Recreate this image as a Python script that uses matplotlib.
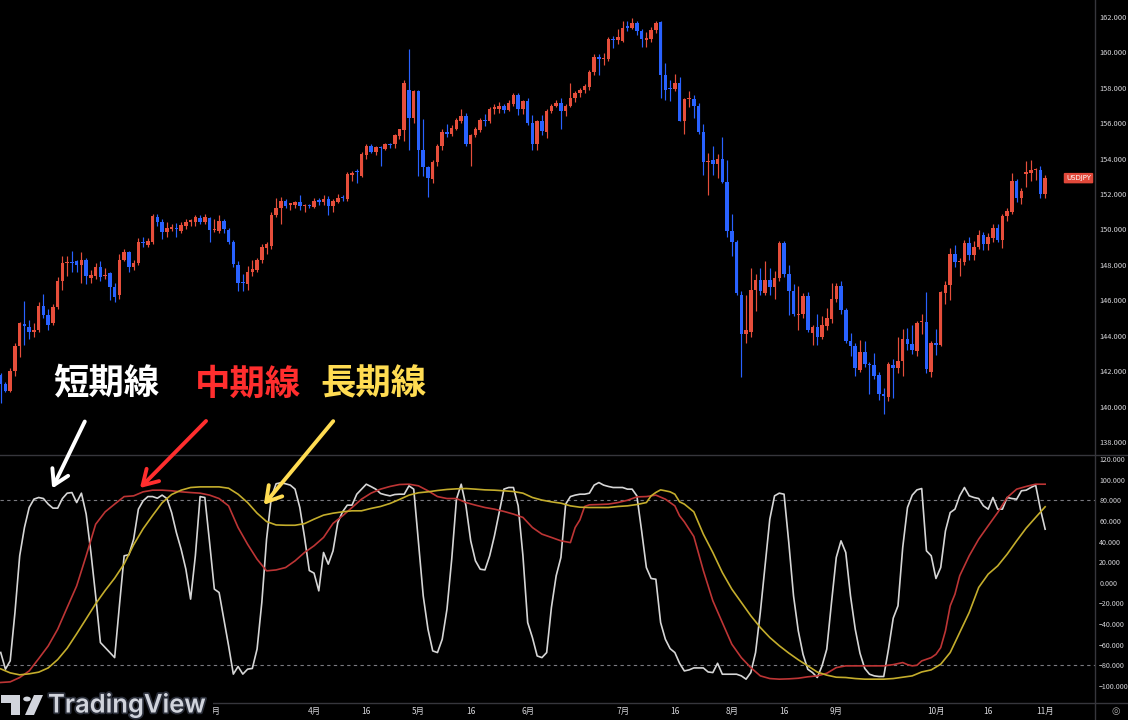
import numpy as np
import pandas as pd
import matplotlib
matplotlib.use("Agg")
import matplotlib.pyplot as plt
from matplotlib.patches import FancyArrowPatch, Rectangle, Polygon, Circle
from matplotlib.lines import Line2D
import matplotlib.patheffects as pe
import matplotlib.transforms as mtrans

plt.rcParams['font.family'] = ['Noto Sans CJK JP', 'DejaVu Sans']

# ---------------- data ----------------
dates = pd.bdate_range('2023-12-29', '2024-11-01')  # daily bars USDJPY

opens = [141.8,141.3,140.9,142.0,143.4,144.65,144.5,144.2,144.35,145.7,
         145.15,144.7,145.6,147.1,148.1,148.15,148.2,148.0,148.3,147.25,
         147.4,147.9,147.35,147.55,146.75,146.3,148.3,148.7,147.9,148.1,
         149.3,149.15,149.3,150.7,150.45,149.85,150.05,150.1,149.9,150.2,
         150.45,150.4,150.65,150.45,150.65,149.95,149.9,150.5,149.95,149.3,
         148.0,147.05,146.9,147.6,147.7,148.25,148.95,149.05,150.8,151.2,
         151.6,151.4,151.4,151.55,151.3,151.38,151.25,151.65,151.55,151.7,
         151.3,151.55,151.8,151.7,153.05,153.3,153.0,154.2,154.7,154.4,
         154.65,154.55,154.8,154.8,155.3,155.6,157.9,156.3,157.8,154.5,
         153.55,152.85,153.8,154.7,155.5,155.4,155.65,156.15,156.4,154.85,
         155.35,155.6,156.2,156.1,156.8,156.8,157.0,156.75,157.1,157.6,
         156.8,157.25,156.0,154.8,156.1,155.5,156.7,156.95,157.15,156.7,
         156.95,157.4,157.7,157.85,158.05,158.9,159.75,159.6,159.6,160.75,
         160.7,160.65,161.45,161.4,161.65,161.2,160.7,160.75,161.25,161.7,
         158.7,158.0,157.95,158.3,156.1,157.35,157.35,156.95,155.5,153.8,
         153.9,153.7,154.0,152.7,149.9,149.3,146.3,144.1,144.2,146.6,
         147.15,146.4,147.15,146.75,147.25,149.25,147.5,146.5,145.15,145.2,
         146.25,144.15,144.5,143.9,144.55,144.95,146.05,146.8,145.45,143.7,
         143.4,142.05,143.1,142.4,142.35,141.8,140.7,140.55,142.35,142.2,
         142.6,143.8,143.55,143.15,144.75,144.75,141.95,143.6,143.5,146.4,
         146.85,148.6,148.15,148.15,149.25,148.55,149.0,149.7,149.2,149.5,
         150.1,149.4,150.75,151.0,152.75,151.75,153.15,153.2,153.35,153.35,
         152.0]
highs = [141.9,141.4,142.2,143.6,144.8,145.95,144.9,144.7,145.9,146.35,
         145.5,145.8,147.3,148.5,148.5,148.8,148.3,148.7,148.4,147.7,
         148.1,148.2,147.8,147.6,147.0,148.6,148.9,148.8,148.3,149.5,
         149.6,149.5,150.9,150.9,150.6,150.4,150.3,150.35,150.4,150.6,
         150.6,150.8,150.8,150.9,150.7,150.6,150.8,150.6,150.1,149.4,
         148.2,147.5,147.95,148.3,148.4,149.2,149.3,151.0,151.8,151.85,
         151.7,151.5,151.6,151.95,151.45,151.45,151.8,151.8,151.95,151.9,
         151.7,152.0,151.95,153.25,153.3,153.4,154.4,154.8,154.85,154.7,
         154.7,154.9,154.9,155.4,155.7,158.45,160.2,157.9,157.9,156.25,
         153.6,153.95,154.8,155.7,155.95,155.9,156.3,156.8,156.6,155.4,
         155.8,156.3,156.55,156.9,157.1,157.2,157.1,157.3,157.7,157.7,
         157.3,157.4,156.45,156.2,156.45,156.8,157.1,157.3,157.4,157.1,
         158.3,157.8,158.0,158.2,159.0,159.9,159.9,159.95,160.85,160.9,
         161.3,161.75,161.75,161.95,161.8,161.3,161.15,161.45,161.75,161.8,
         159.4,158.45,158.8,158.6,157.4,157.8,157.6,157.15,155.95,154.3,
         154.7,154.25,155.2,153.9,150.9,149.4,146.5,146.3,147.85,147.5,
         147.8,148.2,147.85,147.65,149.35,149.35,148.0,146.9,146.8,146.4,
         146.45,144.6,145.2,145.1,145.55,147.0,147.0,147.1,145.55,144.15,
         143.6,143.75,143.7,142.5,143.0,141.95,141.05,142.5,142.7,143.9,
         144.4,144.45,144.6,144.85,145.2,146.45,143.7,144.4,146.5,147.1,
         148.95,149.1,148.4,149.4,149.55,149.35,149.95,149.85,149.8,150.3,
         150.3,150.9,151.2,153.2,152.85,152.35,153.85,153.9,153.45,153.6,
         153.1]
lows = [140.2,140.8,140.8,141.7,142.8,143.5,143.8,143.9,144.2,145.0,
        144.3,144.6,145.5,146.6,147.4,147.6,147.6,147.0,146.9,147.0,
        147.2,147.1,147.2,146.0,145.9,146.1,148.2,147.6,147.7,148.0,
        149.0,149.0,149.2,150.2,149.45,149.6,149.9,149.6,149.8,150.0,
        150.2,150.2,150.3,150.3,149.3,149.85,149.8,149.8,149.2,147.9,
        146.5,146.5,146.6,147.4,147.6,148.1,148.6,148.9,150.7,150.3,
        151.2,151.1,151.2,151.1,151.0,151.2,151.2,151.4,151.4,150.8,
        151.0,151.5,151.6,151.6,152.75,152.6,152.95,154.0,154.3,154.2,
        153.6,154.5,154.6,154.6,155.1,155.0,154.5,156.0,153.0,153.0,
        151.85,152.6,153.6,154.5,155.2,155.3,155.6,156.0,154.7,153.6,
        155.2,155.5,155.85,156.0,156.5,156.6,156.6,156.7,157.0,156.45,
        156.5,155.9,154.5,154.5,155.35,155.15,156.6,156.9,155.7,156.4,
        156.9,157.2,157.5,157.7,157.9,158.7,158.7,159.3,159.5,160.25,
        160.5,160.6,161.2,161.3,161.0,160.3,160.3,160.6,161.1,157.4,
        157.3,157.25,157.8,156.1,155.4,156.9,156.3,155.4,153.1,151.95,
        153.1,152.9,152.6,149.6,148.5,146.3,141.65,143.6,143.9,145.4,
        146.3,146.3,146.3,146.1,147.1,147.3,145.15,145.1,144.35,145.0,
        144.2,143.45,143.5,143.8,144.3,144.7,145.9,145.2,143.6,142.85,
        141.75,141.95,142.25,140.7,141.55,140.35,139.6,140.3,140.5,141.9,
        141.7,143.2,142.95,142.85,144.1,141.9,141.65,142.9,143.4,145.8,
        146.0,147.9,147.4,148.0,148.3,148.3,148.9,148.85,148.85,149.3,
        149.3,148.95,150.5,150.9,151.55,151.45,152.4,152.75,152.8,151.8,
        151.75]
closes = [141.3,140.85,142.0,143.4,144.7,144.55,144.2,144.35,145.7,145.15,
          144.6,145.6,147.1,148.1,148.15,148.1,148.0,148.25,147.4,147.45,
          147.9,147.3,147.45,146.75,146.2,148.3,148.7,147.9,148.1,149.3,
          149.25,149.35,150.75,150.45,149.85,150.1,150.1,150.0,150.25,150.45,
          150.5,150.7,150.45,150.7,149.95,150.05,150.5,150.0,149.3,148.05,
          147.0,146.95,147.6,147.75,148.3,149.0,149.2,150.8,151.2,151.6,
          151.35,151.42,151.55,151.3,151.35,151.32,151.6,151.55,151.7,151.3,
          151.6,151.8,151.75,153.15,153.2,153.22,154.25,154.7,154.4,154.65,
          154.58,154.8,154.75,155.35,155.65,158.25,156.3,157.8,154.5,153.55,
          152.9,153.8,154.7,155.5,155.42,155.75,156.2,156.4,154.85,155.35,
          155.65,156.2,156.1,156.8,156.9,157.0,156.75,157.15,157.6,156.8,
          157.25,156.0,154.8,156.1,155.55,156.7,157.0,157.15,156.7,157.0,
          157.4,157.7,157.9,158.1,158.9,159.75,159.65,159.7,160.75,160.7,
          160.85,161.4,161.4,161.65,161.2,160.75,160.8,161.25,161.65,158.7,
          157.9,157.93,158.3,156.1,157.35,157.4,156.95,155.5,153.8,153.85,
          153.7,154.0,152.7,149.9,149.3,146.4,144.1,144.35,146.6,147.15,
          146.55,147.15,146.75,147.25,149.25,147.5,146.5,145.2,145.25,146.25,
          144.35,144.5,143.95,144.6,145.0,146.1,146.8,145.45,143.7,143.4,
          142.2,143.1,142.4,142.35,141.7,140.7,140.6,142.4,142.2,142.57,
          143.8,143.55,143.2,144.7,144.8,142.1,143.6,143.5,146.45,146.85,
          148.6,148.15,148.2,149.25,148.55,149.0,149.7,149.2,149.6,150.1,
          149.4,150.75,151.05,152.75,151.75,152.2,153.25,153.35,153.4,152.0,
          152.9]

# RCI (short / mid / long)
short_rci = [-67.5,-83.7,-75.6,-28.8,26.2,53.6,73.0,81.1,82.7,81.7,
             76.3,72.4,72.4,81.7,86.9,87.5,77.8,86.9,66.6,29.4,
             -12.7,-57.9,-62.7,-67.6,-72.5,-22.3,26.2,27.2,42.3,71.4,
             79.5,83.6,83.6,82.0,85.0,81.7,68.1,48.7,32.6,13.2,
             -15.8,26.2,83.6,82.7,39.0,-6.1,-9.4,-35.2,-61.0,-88.5,
             -81.1,-88.5,-83.7,-83.0,-64.2,-19.0,42.3,82.7,96.0,97.0,
             96.0,94.7,90.8,73.0,44.2,11.9,9.4,-7.8,29.4,18.1,
             31.0,58.5,68.8,75.3,75.3,85.9,90.8,95.6,93.3,90.8,
             86.6,85.3,84.3,85.6,85.9,85.9,94.0,90.8,39.0,-12.7,
             -45.0,-66.0,-67.6,-54.7,-25.6,22.9,81.1,95.6,74.6,40.7,
             21.3,13.2,12.5,26.2,45.6,68.1,90.8,92.4,92.4,74.6,
             26.2,-38.5,-53.1,-70.9,-72.5,-67.6,-23.9,6.8,24.6,76.3,
             83.6,85.0,85.9,85.9,86.9,94.7,97.2,94.7,93.4,92.4,
             92.4,92.4,90.8,90.8,84.3,50.4,14.8,4.2,3.5,-38.5,
             -54.7,-63.8,-67.6,-78.0,-85.4,-84.4,-82.5,-82.5,-82.5,-86.4,
             -87.0,-78.0,-88.6,-88.6,-88.6,-88.6,-90.2,-93.4,-87.0,-67.6,
             -28.8,16.4,61.7,84.3,86.9,85.9,39.0,-12.7,-46.6,-69.3,
             -83.8,-87.0,-91.8,-80.5,-64.3,-19.0,24.6,40.7,29.4,-12.7,
             -45.0,-68.3,-83.0,-88.6,-90.2,-90.8,-90.8,-64.3,-34.2,-22.3,
             34.3,73.0,85.0,90.1,91.4,31.0,26.2,4.2,14.8,50.4,
             68.1,71.4,84.3,92.4,84.3,82.7,81.7,74.6,71.4,82.7,
             71.4,71.4,82.7,81.7,81.1,89.2,89.8,92.4,94.7,71.4,
             52.0]

mid_bar = [0,2,4,6,8,10,12,14,16,18,20,22,24,26,28,30,32,34,36,38,40,42,44,46,48,
           50,52,54,56,58,60,62,64,66,68,70,72,74,76,78,80,82,84,86,88,90,92,94,96,
           98,100,102,104,106,108,110,112,114,116,118,120,121,122,123,124,126,128,
           130,132,134,136,138,140,142,143,144,146,148,150,152,154,156,158,160,162,
           164,166,168,170,172,174,176,178,182,186,188,190,191,192,193,194,196,197,
           198,199,200,201,202,204,206,208,210,212,214,216,218,220]
mid_rci = [-96.6,-96.0,-91.8,-85.4,-73.5,-61.2,-45.0,-23.9,-3.0,26.2,56.8,68.8,76.3,
           83.6,84.3,88.2,89.8,89.8,89.2,88.2,87.5,86.9,85.0,81.7,74.6,
           53.6,37.4,22.9,11.6,12.5,14.8,21.3,29.4,35.9,44.0,57.6,64.9,73.0,81.1,
           86.9,90.8,93.4,95.3,95.6,94.0,89.2,83.6,81.7,81.7,
           77.8,75.3,73.0,71.4,69.2,66.6,63.4,53.6,47.2,44.0,40.7,39.0,53.6,61.0,74.0,75.6,
           75.9,76.3,77.8,80.0,83.3,83.6,85.0,81.1,74.6,64.9,59.1,44.9,11.9,-17.4,
           -38.5,-59.5,-72.5,-82.2,-90.2,-92.8,-93.4,-93.1,-92.5,-91.1,-90.2,-87.7,
           -82.2,-80.5,-80.5,-80.5,-79.3,-77.3,-79.3,-80.5,-79.9,-75.7,-72.5,-69.3,
           -62.8,-46.6,-22.3,-11.0,6.8,26.2,42.3,55.3,68.1,82.7,90.8,93.4,95.6,95.6]

long_bar = [0,2,4,6,8,10,12,14,16,18,20,22,24,26,28,30,32,34,36,38,40,42,44,46,48,
            50,52,54,56,58,60,62,64,66,68,70,72,74,76,78,80,82,84,86,88,90,92,94,96,
            98,100,102,104,106,108,110,112,114,116,118,120,122,124,126,128,130,132,
            134,136,137,138,139,140,141,142,143,144,146,148,150,152,154,156,158,160,
            162,164,166,168,170,172,174,176,178,180,182,184,186,188,190,192,194,196,
            198,200,202,204,206,208,210,212,214,216,218,220]
long_rci = [-83.4,-87.3,-89.2,-88.2,-86.6,-82.5,-74.4,-63.4,-49.4,-34.9,-20.3,-7.4,4.5,
            18.4,36.9,52.4,65.3,77.6,85.6,89.8,92.4,93.0,93.0,93.0,91.7,
            85.9,77.8,67.5,59.4,56.1,55.8,55.8,57.4,61.7,65.6,67.5,68.8,69.8,69.8,
            72.1,74.0,76.9,80.8,85.0,87.3,88.2,89.5,90.5,91.1,
            91.4,90.8,90.1,89.8,89.2,88.5,86.9,82.7,80.2,78.5,77.2,74.6,73.3,73.0,73.0,
            73.0,74.0,74.6,75.9,77.8,84.3,87.6,90.1,89.2,88.2,85.9,78.5,76.3,68.8,
            47.2,29.4,10.0,-6.1,-19.0,-31.9,-43.3,-53.0,-61.0,-68.1,-74.6,-80.5,
            -86.5,-89.5,-91.5,-91.8,-92.8,-93.4,-93.4,-93.4,-92.8,-91.5,-90.2,-86.4,
            -84.4,-78.9,-67.6,-48.2,-28.8,-4.5,8.4,16.4,27.8,40.7,53.0,63.4,73.7]

price_ticks = list(range(138, 163, 2))
osc_ticks = list(range(-100, 121, 20))
tick_days = ['2024-03-01', '2024-04-01', '2024-04-16', '2024-05-01', '2024-05-16',
             '2024-06-03', '2024-07-01', '2024-07-16', '2024-08-01', '2024-08-16',
             '2024-09-02', '2024-10-01', '2024-10-16', '2024-11-01']
tick_text = ['3月', '4月', '16', '5月', '16', '6月', '7月', '16', '8月', '16',
             '9月', '10月', '16', '11月']
labels_jp = ['短期線', '中期線', '長期線']

# ---------------- style ----------------
W, H = 1128, 720
BG = '#000000'
RED = '#e64e3b'
BLUE = '#2962ff'
TXT = '#d6d6da'
LINE_GRID = '#36363c'

def fx(x):
    return x / W

def fy(y):
    return 1 - y / H

fig = plt.figure(figsize=(W / 100, H / 100), dpi=100, facecolor=BG)
ax1 = fig.add_axes([0, fy(454), fx(1095), 454 / H])
ax2 = fig.add_axes([0, fy(703), fx(1095), (703 - 455) / H])

xs = np.arange(len(closes))
o = np.array(opens); h = np.array(highs); l = np.array(lows); c = np.array(closes)
cols = np.where(c >= o, RED, BLUE)

for ax in (ax1, ax2):
    ax.set_facecolor(BG)
    ax.set_xlim(-0.15, 230.5)
    for s in ax.spines.values():
        s.set_visible(False)
    ax.yaxis.tick_right()
    ax.tick_params(axis='both', length=0, colors=TXT, labelsize=5.4, pad=3.2)

# candles
ax1.vlines(xs, l, h, colors=cols, linewidth=0.85, zorder=2)
ax1.bar(xs, np.maximum(np.abs(c - o), 0.07), bottom=np.minimum(o, c), width=0.74,
        color=cols, linewidth=0, zorder=3)
ax1.set_ylim(137.32, 162.96)
ax1.set_yticks(price_ticks)
ax1.set_yticklabels([f'{v:.3f}' for v in price_ticks])
ax1.set_xticks([])

# USDJPY last price tag
tr = mtrans.blended_transform_factory(fig.transFigure, ax1.transData)
fig.text(fx(1078.5), c[-1], 'USDJPY', transform=tr, ha='center', va='center',
         fontsize=5.0, color='white', family=['DejaVu Sans'],
         bbox=dict(boxstyle='round,pad=0.32,rounding_size=0.15', fc='#e0483a', ec='none'),
         zorder=6)

# oscillator
ax2.axhline(80, color='#7a7a80', lw=0.8, ls=(0, (3, 3)), zorder=1)
ax2.axhline(-80, color='#7a7a80', lw=0.8, ls=(0, (3, 3)), zorder=1)
ax2.plot(xs, short_rci, color='#d6d6d6', lw=1.2, zorder=3)
ax2.plot(mid_bar, mid_rci, color='#bd3535', lw=1.2, zorder=4)
ax2.plot(long_bar, long_rci, color='#c4ad2c', lw=1.2, zorder=5)
ax2.set_ylim(-116.5, 123.9)
ax2.set_yticks(osc_ticks)
ax2.set_yticklabels([f'{v:.3f}'.replace('-', '\u2212') for v in osc_ticks])
ax2.tick_params(axis='y', labelsize=5.1, pad=3.0)
tick_pos = [dates.get_loc(pd.Timestamp(d)) for d in tick_days]
ax2.set_xticks(tick_pos)
ax2.set_xticklabels(tick_text)
ax2.tick_params(axis='x', labelsize=6.0, pad=2.6)

# frame lines
for (x0, y0, x1, y1) in [(0, 454.5, W, 454.5), (0, 703, W, 703), (1095, 0, 1095, H)]:
    fig.add_artist(Line2D([fx(x0), fx(x1)], [fy(y0), fy(y1)], color=LINE_GRID,
                          lw=1.0, transform=fig.transFigure, zorder=4))

# annotations
txt_cols = ['#ffffff', '#ff2e2e', '#ffdc52']
txt_x = [106.5, 247.5, 373.5]
for s, col, x in zip(labels_jp, txt_cols, txt_x):
    fig.text(fx(x), fy(384), s, color=col, fontsize=25.5, fontweight='bold',
             ha='center', va='center', family=['Noto Sans CJK JP'], zorder=7)

arrows = [((86, 419), (51, 491)), ((208, 419), (138, 490)), ((335, 419), (262, 507))]
for (p0, p1), col in zip(arrows, txt_cols):
    ar = FancyArrowPatch((fx(p0[0]), fy(p0[1])), (fx(p1[0]), fy(p1[1])),
                         transform=fig.transFigure,
                         arrowstyle='->,head_length=0.75,head_width=0.45',
                         mutation_scale=14, lw=2.8, color=col,
                         capstyle='round', joinstyle='round', zorder=7)
    fig.add_artist(ar)

# TradingView logo
fig.add_artist(Rectangle((0, 0), fx(213), (720 - 687) / H, transform=fig.transFigure,
                         facecolor=BG, edgecolor='none', zorder=8))
LOGO = '#d1d4dc'
logo_t = [(1, 695), (20, 695), (20, 715), (11, 715), (11, 703), (1, 703)]
fig.add_artist(Polygon([(fx(a), fy(b)) for a, b in logo_t], closed=True,
                       transform=fig.transFigure, facecolor=LOGO, edgecolor='none', zorder=9))
fig.add_artist(Circle((fx(27), fy(699)), 3.8 / W, transform=fig.transFigure,
                      facecolor=LOGO, edgecolor='none', zorder=9))
logo_s = [(34, 695), (43, 695), (34, 715), (25, 715)]
fig.add_artist(Polygon([(fx(a), fy(b)) for a, b in logo_s], closed=True,
                       transform=fig.transFigure, facecolor=LOGO, edgecolor='none', zorder=9))
t = fig.text(fx(48), fy(705), 'TradingView', color=LOGO, fontsize=18.4,
             fontweight='semibold', family=['Inter', 'DejaVu Sans'],
             ha='left', va='center', zorder=9)
t.set_path_effects([pe.withStroke(linewidth=2.5, foreground='#2a2e39')])

# settings glyph bottom-right
fig.text(fx(1116), fy(711), '\u25ce', color='#aaaaaa', fontsize=7,
         family=['DejaVu Sans'], ha='center', va='center', zorder=9)

fig.savefig('out.png', dpi=100, facecolor=BG)
